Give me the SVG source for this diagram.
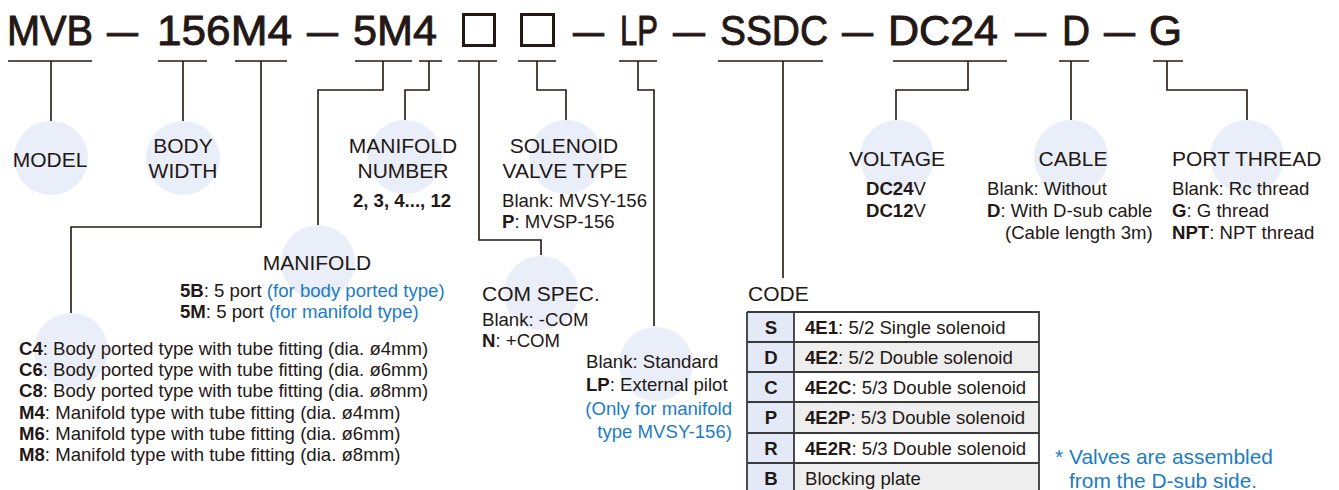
<svg xmlns="http://www.w3.org/2000/svg" width="1339" height="490" viewBox="0 0 1339 490">
<defs>
<style>
text{font-family:"Liberation Sans",Arial,sans-serif;fill:#231815}
.t{font-size:42px;stroke:#231815;stroke-width:0.9}
.h{font-size:21px}
.b{font-size:18.6px}
.bd{font-weight:bold}
.bl{fill:#1c7cc4}
.c{fill:#e9eef8}
.ln{fill:none;stroke:#231815;stroke-width:1.6}
.bx{fill:none;stroke:#231815;stroke-width:3}
.tb{stroke:#3a3a3a;stroke-width:1.8}
.k{fill:#e3e9f6}
.g{fill:#eeeeee}
.w{fill:#ffffff}
.n{font-size:20.9px}
</style>
</defs>
<rect width="1339" height="490" fill="#ffffff"/>
<g id="code-title">
<text class="t" x="7" y="45" textLength="86" lengthAdjust="spacingAndGlyphs">MVB</text>
<text class="t" x="107" y="45" textLength="31" lengthAdjust="spacingAndGlyphs">—</text>
<text class="t" x="157" y="45" textLength="135" lengthAdjust="spacingAndGlyphs">156M4</text>
<text class="t" x="307" y="45" textLength="31" lengthAdjust="spacingAndGlyphs">—</text>
<text class="t" x="353" y="45" textLength="84" lengthAdjust="spacingAndGlyphs">5M4</text>
<rect class="bx" x="463.5" y="14.5" width="31" height="31"/>
<rect class="bx" x="521.5" y="14.5" width="32" height="31"/>
<text class="t" x="573" y="45" textLength="31" lengthAdjust="spacingAndGlyphs">—</text>
<text class="t" x="620" y="45" textLength="38" lengthAdjust="spacingAndGlyphs">LP</text>
<text class="t" x="673" y="45" textLength="32" lengthAdjust="spacingAndGlyphs">—</text>
<text class="t" x="720" y="45" textLength="108" lengthAdjust="spacingAndGlyphs">SSDC</text>
<text class="t" x="842" y="45" textLength="31" lengthAdjust="spacingAndGlyphs">—</text>
<text class="t" x="888" y="45" textLength="110" lengthAdjust="spacingAndGlyphs">DC24</text>
<text class="t" x="1015" y="45" textLength="31" lengthAdjust="spacingAndGlyphs">—</text>
<text class="t" x="1062" y="45" textLength="28" lengthAdjust="spacingAndGlyphs">D</text>
<text class="t" x="1104" y="45" textLength="31" lengthAdjust="spacingAndGlyphs">—</text>
<text class="t" x="1149" y="45" textLength="33" lengthAdjust="spacingAndGlyphs">G</text>
</g>
<g id="connectors">
<path class="ln" d="M8 61H92M51 61V121"/>
<path class="ln" d="M158 61H207M183 61V121"/>
<path class="ln" d="M235 61H287M261 61V227H71V313"/>
<path class="ln" d="M355 61H412M383 61V90H318V225"/>
<path class="ln" d="M419 61H442M429 61V90H405V120"/>
<path class="ln" d="M458 61H497M479 61V240H541V255"/>
<path class="ln" d="M518 61H556M537 61V90H566V120"/>
<path class="ln" d="M619 61H657M638 61V90H654V326"/>
<path class="ln" d="M718 61H823M783 61V278"/>
<path class="ln" d="M893 61H1007M968 61V90H896V120"/>
<path class="ln" d="M1059 61H1089M1071 61V120"/>
<path class="ln" d="M1153 61H1183M1167 61V90H1247V120"/>
</g>
<g id="model">
<circle class="c" cx="51" cy="158" r="37"/>
<text class="h" x="50" y="167" text-anchor="middle">MODEL</text>
</g>
<g id="body-width">
<circle class="c" cx="183" cy="158" r="37"/>
<text class="h" x="183" y="153" text-anchor="middle">BODY</text>
<text class="h" x="183" y="178" text-anchor="middle">WIDTH</text>
</g>
<g id="manifold-number">
<circle class="c" cx="405" cy="157" r="37"/>
<text class="h" x="403" y="153" text-anchor="middle">MANIFOLD</text>
<text class="h" x="403" y="178" text-anchor="middle">NUMBER</text>
<text class="b bd" x="402" y="207" text-anchor="middle">2, 3, 4..., 12</text>
</g>
<g id="solenoid-valve-type">
<circle class="c" cx="566" cy="157" r="37"/>
<text class="h" x="564" y="153" text-anchor="middle">SOLENOID</text>
<text class="h" x="565" y="178" text-anchor="middle">VALVE TYPE</text>
<text class="b" x="502" y="207">Blank: MVSY-156</text>
<text class="b" x="502" y="228"><tspan class="bd">P</tspan>: MVSP-156</text>
</g>
<g id="voltage">
<circle class="c" cx="897" cy="157" r="37"/>
<text class="h" x="897" y="166" text-anchor="middle">VOLTAGE</text>
<text class="b" x="896" y="195" text-anchor="middle"><tspan class="bd">DC24</tspan>V</text>
<text class="b" x="896" y="217" text-anchor="middle"><tspan class="bd">DC12</tspan>V</text>
</g>
<g id="cable">
<circle class="c" cx="1071" cy="157" r="37"/>
<text class="h" x="1073" y="166" text-anchor="middle">CABLE</text>
<text class="b" x="987" y="195">Blank: Without</text>
<text class="b" x="987" y="217"><tspan class="bd">D</tspan>: With D-sub cable</text>
<text class="b" x="1005" y="239">(Cable length 3m)</text>
</g>
<g id="port-thread">
<circle class="c" cx="1247" cy="157" r="37"/>
<text class="h" x="1172" y="166">PORT THREAD</text>
<text class="b" x="1172" y="195">Blank: Rc thread</text>
<text class="b" x="1172" y="217"><tspan class="bd">G</tspan>: G thread</text>
<text class="b" x="1172" y="239"><tspan class="bd">NPT</tspan>: NPT thread</text>
</g>
<g id="manifold">
<circle class="c" cx="318" cy="262" r="37"/>
<text class="h" x="317" y="270" text-anchor="middle">MANIFOLD</text>
<text class="b" x="180" y="297"><tspan class="bd">5B</tspan>: 5 port <tspan class="bl">(for body ported type)</tspan></text>
<text class="b" x="180" y="318"><tspan class="bd">5M</tspan>: 5 port <tspan class="bl">(for manifold type)</tspan></text>
</g>
<g id="fitting">
<circle class="c" cx="71" cy="350" r="37"/>
<text class="b" x="19" y="355"><tspan class="bd">C4</tspan>: Body ported type with tube fitting (dia. ø4mm)</text>
<text class="b" x="19" y="376"><tspan class="bd">C6</tspan>: Body ported type with tube fitting (dia. ø6mm)</text>
<text class="b" x="19" y="397"><tspan class="bd">C8</tspan>: Body ported type with tube fitting (dia. ø8mm)</text>
<text class="b" x="19" y="419"><tspan class="bd">M4</tspan>: Manifold type with tube fitting (dia. ø4mm)</text>
<text class="b" x="19" y="440"><tspan class="bd">M6</tspan>: Manifold type with tube fitting (dia. ø6mm)</text>
<text class="b" x="19" y="461"><tspan class="bd">M8</tspan>: Manifold type with tube fitting (dia. ø8mm)</text>
</g>
<g id="com-spec">
<circle class="c" cx="541" cy="293" r="37"/>
<text class="h" x="482" y="301">COM SPEC.</text>
<text class="b" x="482" y="326">Blank: -COM</text>
<text class="b" x="482" y="347"><tspan class="bd">N</tspan>: +COM</text>
</g>
<g id="pilot">
<circle class="c" cx="656" cy="364" r="37"/>
<text class="b" x="586" y="368">Blank: Standard</text>
<text class="b" x="586" y="391"><tspan class="bd">LP</tspan>: External pilot</text>
<text class="b bl" x="732" y="415" text-anchor="end">(Only for manifold</text>
<text class="b bl" x="732" y="438" text-anchor="end">type MVSY-156)</text>
</g>
<g id="code">
<text class="h" x="748" y="301">CODE</text>
<rect class="k" x="747" y="312" width="47" height="181"/>
<rect class="w" x="794" y="312" width="245" height="30"/>
<rect class="g" x="794" y="342" width="245" height="30"/>
<rect class="w" x="794" y="372" width="245" height="30"/>
<rect class="g" x="794" y="402" width="245" height="31"/>
<rect class="w" x="794" y="433" width="245" height="30"/>
<rect class="g" x="794" y="463" width="245" height="30"/>
<path class="tb" fill="none" d="M747 312H1039V495M747 312V495M794 312V495M747 342H1039M747 372H1039M747 402H1039M747 433H1039M747 463H1039"/>
<text class="b bd" x="771" y="334" text-anchor="middle">S</text>
<text class="b bd" x="771" y="364" text-anchor="middle">D</text>
<text class="b bd" x="771" y="394" text-anchor="middle">C</text>
<text class="b bd" x="771" y="424" text-anchor="middle">P</text>
<text class="b bd" x="771" y="455" text-anchor="middle">R</text>
<text class="b bd" x="771" y="485" text-anchor="middle">B</text>
<text class="b" x="805" y="334"><tspan class="bd">4E1</tspan>: 5/2 Single solenoid</text>
<text class="b" x="805" y="364"><tspan class="bd">4E2</tspan>: 5/2 Double solenoid</text>
<text class="b" x="805" y="394"><tspan class="bd">4E2C</tspan>: 5/3 Double solenoid</text>
<text class="b" x="805" y="424"><tspan class="bd">4E2P</tspan>: 5/3 Double solenoid</text>
<text class="b" x="805" y="455"><tspan class="bd">4E2R</tspan>: 5/3 Double solenoid</text>
<text class="b" x="805" y="485">Blocking plate</text>
</g>
<g id="note">
<text class="bl n" x="1055" y="464">*</text>
<text class="bl n" x="1069" y="464">Valves are assembled</text>
<text class="bl n" x="1069" y="488">from the D-sub side.</text>
</g>
</svg>
